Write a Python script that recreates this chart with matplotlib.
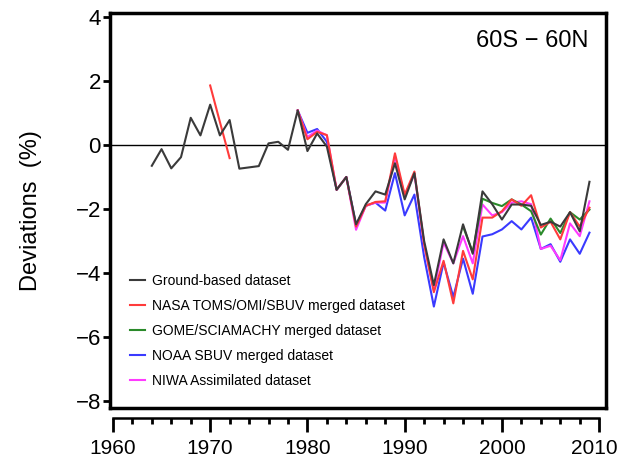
import matplotlib
matplotlib.use("Agg")
import matplotlib.pyplot as plt
from matplotlib.ticker import MultipleLocator
from matplotlib.transforms import ScaledTranslation
import matplotlib.font_manager as fm

names = {f.name for f in fm.fontManager.ttflist}
fam = ['Liberation Sans Narrow'] if 'Liberation Sans Narrow' in names else ['Liberation Sans']
plt.rcParams['font.family'] = fam + ['DejaVu Sans']

# ---- data ----
ground_years = list(range(1964, 2010))
ground_vals = [-0.65, -0.13, -0.73, -0.38, 0.85, 0.30, 1.26, 0.30, 0.78, -0.74,
               -0.70, -0.66, 0.05, 0.10, -0.15, 1.08, -0.19, 0.36, -0.05, -1.40,
               -1.00, -2.48, -1.85, -1.45, -1.55, -0.57, -1.70, -0.88, -3.00, -4.38,
               -2.95, -3.70, -2.48, -3.40, -1.45, -1.85, -2.33, -1.86, -1.86, -1.90,
               -2.50, -2.40, -2.55, -2.10, -2.70, -1.15]

nasa_early_years = [1970, 1971, 1972]
nasa_early_vals = [1.86, 0.72, -0.41]

sat_years = list(range(1979, 2010))
nasa_vals = [1.08, 0.18, 0.41, 0.31, -1.40, -1.00, -2.55, -1.90, -1.78, -1.76,
             -0.26, -1.55, -0.83, -3.10, -4.60, -3.62, -4.95, -3.31, -4.20, -2.27,
             -2.27, -2.07, -1.70, -1.90, -1.57, -2.58, -2.40, -2.95, -2.10, -2.55,
             -1.96]
noaa_vals = [1.08, 0.38, 0.50, 0.10, -1.40, -1.00, -2.50, -1.90, -1.80, -2.05,
             -0.88, -2.20, -1.55, -3.50, -5.05, -3.67, -4.75, -3.55, -4.65, -2.86,
             -2.79, -2.64, -2.38, -2.64, -2.27, -3.25, -3.10, -3.65, -2.95, -3.40,
             -2.74]
niwa_vals = [1.08, 0.25, 0.45, 0.30, -1.40, -1.00, -2.65, -1.90, -1.80, -1.80,
             -0.35, -1.60, -0.90, -3.10, -4.55, -3.05, -3.70, -2.85, -3.70, -1.86,
             -2.20, -2.10, -1.80, -1.76, -1.85, -3.25, -3.15, -3.60, -2.45, -2.85,
             -1.76]

gome_years = list(range(1996, 2010))
gome_vals = [-2.55, -3.35, -1.68, -1.81, -1.91, -1.70, -1.86, -2.07, -2.80, -2.30,
             -2.75, -2.10, -2.33, -2.02]

labels = ["Ground-based dataset", "NASA TOMS/OMI/SBUV merged dataset",
          "GOME/SCIAMACHY merged dataset", "NOAA SBUV merged dataset",
          "NIWA Assimilated dataset"]
yticks = [4, 2, 0, -2, -4, -6, -8]
xticks = [1960, 1970, 1980, 1990, 2000, 2010]

# ---- figure ----
fig = plt.figure(figsize=(6.19, 4.68), dpi=100)
W, H = 619, 468
left, right, top, bottom = 110, 606, 13, 408
ax = fig.add_axes([left / W, 1 - bottom / H, (right - left) / W, (bottom - top) / H])

c_black = '#3a3a3a'
c_red = '#ff3b3b'
c_green = '#2a8a2a'
c_blue = '#3a3aff'
c_mag = '#ff3bff'
lw = 1.5

ax.axhline(0, color='black', lw=1.0, zorder=1)
ax.plot(sat_years, noaa_vals, color=c_blue, lw=lw, label=labels[3], zorder=2)
ax.plot(sat_years, niwa_vals, color=c_mag, lw=lw, label=labels[4], zorder=3)
ax.plot(gome_years, gome_vals, color=c_green, lw=lw, label=labels[2], zorder=4)
ax.plot(sat_years, nasa_vals, color=c_red, lw=lw, label=labels[1], zorder=5)
ax.plot(nasa_early_years, nasa_early_vals, color=c_red, lw=lw, zorder=5)
ax.plot(ground_years, ground_vals, color=c_black, lw=lw, label=labels[0], zorder=6)

ax.set_xlim(1959.7, 2010.7)
ax.set_ylim(-8.22, 4.125)

for s in ['top', 'left', 'right']:
    ax.spines[s].set_linewidth(2.5)
ax.spines['bottom'].set_position(('outward', 7))
ax.spines['bottom'].set_bounds(1960, 2010)
ax.spines['bottom'].set_linewidth(1.8)
ax.plot([0, 1], [0, 0], transform=ax.transAxes, color='black', lw=2.5,
        clip_on=False, zorder=10, solid_capstyle='projecting')

ax.xaxis.set_minor_locator(MultipleLocator(2))
ax.tick_params(axis='y', direction='out', length=5, width=2, pad=1.5, labelsize=16)
ax.tick_params(axis='x', which='major', direction='out', length=10, width=2, pad=5,
               labelsize=15)
ax.tick_params(axis='x', which='minor', direction='out', length=4, width=2)

ax.set_yticks(yticks)
ax.set_yticklabels([str(v).replace('-', '\u2212') for v in yticks])
ax.set_xticks(xticks)
ax.set_xticklabels([str(v) for v in xticks])
last = ax.get_xticklabels()[-1]
last.set_transform(last.get_transform() + ScaledTranslation(-5 / 100, 0, fig.dpi_scale_trans))

ax.set_ylabel('Deviations  (%)', fontsize=17, labelpad=24)
ax.text(0.965, 0.93, '60S \u2212 60N', transform=ax.transAxes,
        ha='right', va='center', fontsize=17)

handles, labs = ax.get_legend_handles_labels()
order = [labels.index(l) for l in labs]
hl = sorted(zip(order, handles, labs))
ax.legend([h for _, h, _ in hl], [l for _, _, l in hl], loc='upper left',
          bbox_to_anchor=(0.015, 0.37), frameon=False, fontsize=10,
          handlelength=1.1, handletextpad=0.5, labelspacing=0.78)

fig.savefig('out.png', dpi=100)
